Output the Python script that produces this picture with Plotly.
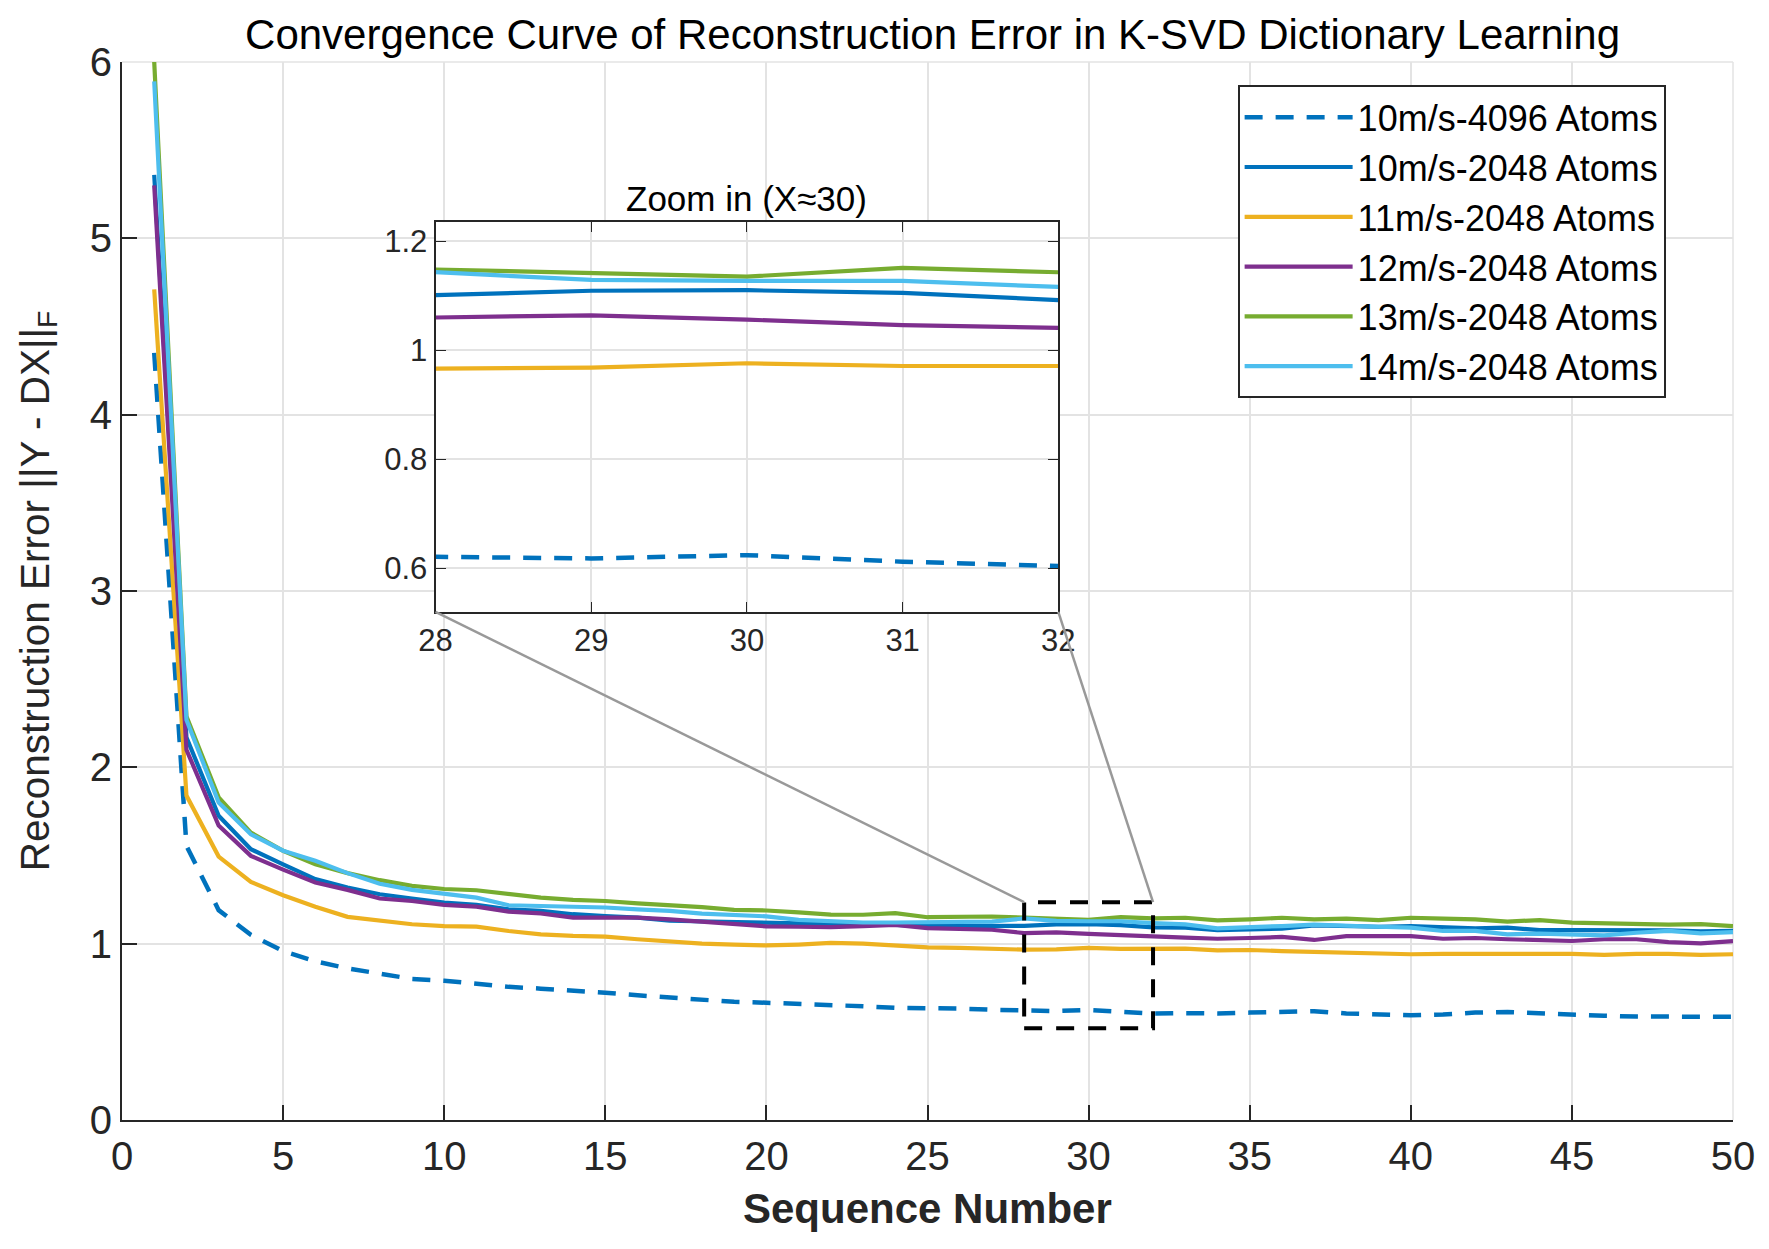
import plotly.graph_objects as go

# 迭代次數
seq = list(range(1, 51))

# 各條收斂曲線
err_10_4096 = [4.35, 1.555, 1.19, 1.05, 0.958, 0.90, 0.86, 0.83, 0.80, 0.79,
               0.77, 0.755, 0.745, 0.735, 0.722, 0.707, 0.695, 0.68, 0.67, 0.665,
               0.66, 0.656, 0.645, 0.636, 0.637, 0.632, 0.625, 0.621, 0.618, 0.624,
               0.612, 0.604, 0.606, 0.604, 0.609, 0.613, 0.617, 0.604, 0.596, 0.594,
               0.598, 0.609, 0.613, 0.604, 0.598, 0.591, 0.587, 0.585, 0.585, 0.585]
err_10_2048 = [5.36, 2.17, 1.725, 1.536, 1.45, 1.366, 1.318, 1.28, 1.256, 1.233,
               1.22, 1.195, 1.186, 1.167, 1.157, 1.148, 1.13, 1.125, 1.12, 1.117,
               1.115, 1.112, 1.11, 1.107, 1.10, 1.10, 1.10, 1.101, 1.109, 1.110,
               1.105, 1.092, 1.091, 1.077, 1.081, 1.085, 1.104, 1.10, 1.096, 1.10,
               1.091, 1.087, 1.091, 1.077, 1.077, 1.077, 1.072, 1.075, 1.07, 1.072]
err_11_2048 = [4.71, 1.84, 1.494, 1.35, 1.275, 1.21, 1.152, 1.129, 1.11, 1.10,
               1.097, 1.072, 1.053, 1.044, 1.04, 1.025, 1.01, 1.0, 0.995, 0.99,
               0.995, 1.004, 1.0, 0.989, 0.979, 0.976, 0.97, 0.966, 0.968, 0.976,
               0.971, 0.971, 0.972, 0.962, 0.964, 0.958, 0.953, 0.945, 0.94, 0.94,
               0.942, 0.942, 0.943, 0.943, 0.942, 0.936, 0.942, 0.942, 0.936, 0.94]
err_12_2048 = [5.30, 2.10, 1.67, 1.498, 1.42, 1.347, 1.305, 1.256, 1.242, 1.22,
               1.21, 1.182, 1.172, 1.148, 1.148, 1.148, 1.138, 1.126, 1.11, 1.098,
               1.096, 1.094, 1.10, 1.107, 1.088, 1.083, 1.079, 1.06, 1.064, 1.056,
               1.046, 1.041, 1.034, 1.028, 1.032, 1.038, 1.021, 1.043, 1.043, 1.043,
               1.028, 1.032, 1.025, 1.021, 1.015, 1.025, 1.025, 1.009, 1.002, 1.015]
err_13_2048 = [6.0, 2.29, 1.83, 1.63, 1.527, 1.45, 1.40, 1.36, 1.328, 1.31,
               1.303, 1.28, 1.261, 1.248, 1.242, 1.229, 1.22, 1.207, 1.192, 1.188,
               1.177, 1.165, 1.164, 1.173, 1.15, 1.15, 1.154, 1.148, 1.142, 1.135,
               1.151, 1.143, 1.147, 1.132, 1.138, 1.147, 1.138, 1.142, 1.134, 1.147,
               1.142, 1.138, 1.125, 1.134, 1.119, 1.115, 1.109, 1.108, 1.111, 1.10]
err_14_2048 = [5.89, 2.27, 1.80, 1.62, 1.527, 1.47, 1.40, 1.34, 1.305, 1.286,
               1.261, 1.218, 1.214, 1.205, 1.205, 1.195, 1.186, 1.17, 1.16, 1.155,
               1.135, 1.125, 1.12, 1.12, 1.12, 1.12, 1.125, 1.143, 1.129, 1.127,
               1.127, 1.116, 1.109, 1.087, 1.096, 1.10, 1.108, 1.10, 1.096, 1.091,
               1.072, 1.072, 1.053, 1.057, 1.053, 1.047, 1.062, 1.072, 1.058, 1.066]

series_names = ['10m/s-4096 Atoms', '10m/s-2048 Atoms', '11m/s-2048 Atoms',
                '12m/s-2048 Atoms', '13m/s-2048 Atoms', '14m/s-2048 Atoms']
series_values = [err_10_4096, err_10_2048, err_11_2048, err_12_2048, err_13_2048, err_14_2048]
series_colors = ['#0072BD', '#0072BD', '#EDB120', '#7E2F8E', '#77AC30', '#4DBEEE']
series_dash = ['18px,13px', 'solid', 'solid', 'solid', 'solid', 'solid']

# 放大區域
zoom_x = [28, 32]
zoom_y = [0.52, 1.235]
main_x = [0, 50]
main_y = [0, 6]
inset_dom_x = [0.1946, 0.5812]
inset_dom_y = [0.4803, 0.8487]

FONT = 'Liberation Sans, Arial, sans-serif'
GRID = '#e3e3e3'
AXC = '#262626'

fig = go.Figure()

for name, vals, col, dsh in zip(series_names, series_values, series_colors, series_dash):
    fig.add_trace(go.Scatter(x=seq, y=vals, name=name, mode='lines',
                             line=dict(color=col, width=4.5 if dsh != 'solid' else 4.2, dash=dsh)))
# 小圖
for name, vals, col, dsh in zip(series_names, series_values, series_colors, series_dash):
    fig.add_trace(go.Scatter(x=seq, y=vals, name=name, mode='lines', showlegend=False,
                             xaxis='x2', yaxis='y2',
                             line=dict(color=col, width=4.5 if dsh != 'solid' else 4.2, dash=dsh)))

# 放大框 + 連接線 (paper 座標)
def px_x(v):
    return (v - main_x[0]) / (main_x[1] - main_x[0])

def px_y(v):
    return (v - main_y[0]) / (main_y[1] - main_y[0])

shapes = [
    dict(type='rect', xref='x', yref='y', x0=zoom_x[0], x1=zoom_x[1], y0=zoom_y[0], y1=zoom_y[1],
         line=dict(color='black', width=4, dash='18px,14px'), layer='above'),
    dict(type='line', xref='paper', yref='paper', x0=inset_dom_x[0], y0=inset_dom_y[0],
         x1=px_x(zoom_x[0]), y1=px_y(zoom_y[1]), line=dict(color='#999999', width=2.5), layer='above'),
    dict(type='line', xref='paper', yref='paper', x0=inset_dom_x[1], y0=inset_dom_y[0],
         x1=px_x(zoom_x[1]), y1=px_y(zoom_y[1]), line=dict(color='#999999', width=2.5), layer='above'),
    # 主圖上、右邊框 (淺灰)
    dict(type='line', xref='paper', yref='paper', x0=0, x1=1, y0=1, y1=1,
         line=dict(color=GRID, width=1.5), layer='below'),
    dict(type='line', xref='paper', yref='paper', x0=1, x1=1, y0=0, y1=1,
         line=dict(color=GRID, width=1.5), layer='below'),
]

# 頁面有 8px 邊距，所以圖略縮小
fig.update_layout(
    width=1761, height=1230,
    margin=dict(l=114, r=36, t=54, b=118),
    paper_bgcolor='white', plot_bgcolor='white',
    font=dict(family=FONT, color=AXC),
    title=dict(text='Convergence Curve of Reconstruction Error in K-SVD Dictionary Learning',
               x=0.525, xanchor='center', y=0.979, yanchor='middle',
               font=dict(size=42, color='black')),
    xaxis=dict(range=main_x, tickvals=list(range(0, 51, 5)), ticks='inside', ticklen=15,
               tickwidth=1.5, tickcolor=AXC, showline=True, linecolor=AXC, linewidth=2,
               showgrid=True, gridcolor=GRID, gridwidth=1.5, zeroline=False, automargin=False,
               tickfont=dict(size=40, color=AXC)),
    yaxis=dict(range=main_y, tickvals=list(range(0, 7)), ticks='inside', ticklen=15,
               tickwidth=1.5, tickcolor=AXC, showline=True, linecolor=AXC, linewidth=2,
               showgrid=True, gridcolor=GRID, gridwidth=1.5, zeroline=False, automargin=False,
               tickfont=dict(size=40, color=AXC),
               title=dict(text='Reconstruction Error ||Y - DX||<sub>F</sub>',
                          font=dict(size=40.5, color=AXC), standoff=28)),
    xaxis2=dict(domain=inset_dom_x, anchor='y2', range=zoom_x, tickvals=[28, 29, 30, 31, 32],
                ticks='inside', ticklen=10, tickcolor=AXC, showline=True, mirror='ticks',
                linecolor=AXC, linewidth=2, showgrid=True, gridcolor=GRID, gridwidth=1.5,
                zeroline=False, automargin=False, tickfont=dict(size=31, color=AXC)),
    yaxis2=dict(domain=inset_dom_y, anchor='x2', range=zoom_y, tickvals=[0.6, 0.8, 1.0, 1.2],
                ticks='inside', ticklen=10, tickcolor=AXC, showline=True, mirror='ticks',
                linecolor=AXC, linewidth=2, showgrid=True, gridcolor=GRID, gridwidth=1.5,
                zeroline=False, automargin=False, tickfont=dict(size=31, color=AXC)),
    legend=dict(x=0.6925, y=0.978, xanchor='left', yanchor='top',
                bgcolor='white', bordercolor=AXC, borderwidth=2,
                font=dict(size=36, color='black'), itemwidth=108, tracegroupgap=0),
    shapes=shapes,
    annotations=[
        dict(text='Zoom in (X≈30)', xref='paper', yref='paper',
             x=(inset_dom_x[0] + inset_dom_x[1]) / 2, y=inset_dom_y[1],
             xanchor='center', yanchor='bottom', yshift=2, showarrow=False,
             font=dict(size=35, color='black')),
        # x 軸標題
        dict(text='<b>Sequence Number</b>', xref='paper', yref='paper', x=0.5, y=-0.084,
             xanchor='center', yanchor='middle', showarrow=False,
             font=dict(size=42, color=AXC)),
    ],
)

fig.write_html('out.html')
